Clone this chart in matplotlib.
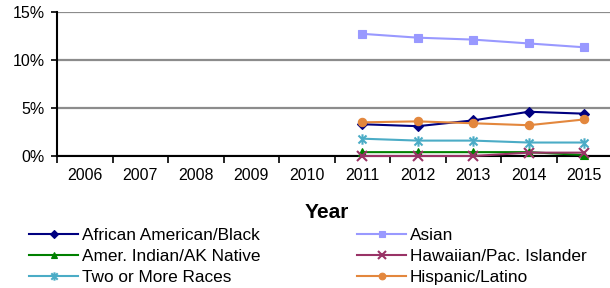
import numpy as np
import matplotlib
matplotlib.use('Agg')
import matplotlib.pyplot as plt
from matplotlib.path import Path

plt.rcParams['font.family'] = ['Liberation Sans', 'DejaVu Sans']

years = ['2006', '2007', '2008', '2009', '2010', '2011', '2012', '2013', '2014', '2015']
nan = np.nan

african_american = [nan, nan, nan, nan, nan, 3.3, 3.1, 3.7, 4.6, 4.4]
asian = [nan, nan, nan, nan, nan, 12.7, 12.3, 12.1, 11.7, 11.3]
amer_indian = [nan, nan, nan, nan, nan, 0.4, 0.4, 0.4, 0.4, 0.1]
hawaiian = [nan, nan, nan, nan, nan, 0.0, 0.0, 0.0, 0.35, 0.35]
two_or_more = [nan, nan, nan, nan, nan, 1.8, 1.6, 1.6, 1.4, 1.4]
hispanic = [nan, nan, nan, nan, nan, 3.5, 3.6, 3.4, 3.2, 3.8]

# excel style asterisk marker: an x with a vertical bar
star = Path([(-1, -1), (1, 1), (-1, 1), (1, -1), (0, -1.3), (0, 1.3)],
            [Path.MOVETO, Path.LINETO, Path.MOVETO, Path.LINETO, Path.MOVETO, Path.LINETO])

series = [
    ('African American/Black', african_american, '#000080', 'D', 5.5),
    ('Asian', asian, '#9999FF', 's', 6),
    ('Amer. Indian/AK Native', amer_indian, '#008000', '^', 6),
    ('Hawaiian/Pac. Islander', hawaiian, '#993366', 'x', 6.5),
    ('Two or More Races', two_or_more, '#4BACC6', star, 7.5),
    ('Hispanic/Latino', hispanic, '#E3873D', 'o', 6),
]

fig = plt.figure(figsize=(6.1, 2.88), dpi=100)
ax = fig.add_axes([57 / 610, 132 / 288, 555 / 610, 144.3 / 288])

x = np.arange(len(years))
for label, vals, color, marker, ms in series:
    ax.plot(x, vals, color=color, lw=1.5, marker=marker, markersize=ms,
            markeredgewidth=1.5 if marker in ('x',) or marker is star else 0.8,
            markerfacecolor=color, label=label, clip_on=False, zorder=3)

ax.set_xlim(-0.5, 9.5)
ax.set_ylim(0, 15)
ax.set_yticks([0, 5, 10, 15])
ax.set_yticklabels(['0%', '5%', '10%', '15%'], fontsize=11.5)
ax.yaxis.grid(True, color='#8c8c8c', lw=1.6)
ax.set_axisbelow(True)

ax.set_xticks(np.arange(-0.5, 9.5, 1))
ax.set_xticklabels([])
ax.set_xticks(x, minor=True)
ax.set_xticklabels(years, minor=True, fontsize=11.5)
ax.tick_params(axis='x', which='major', direction='out', length=5, width=1.2)
ax.tick_params(axis='x', which='minor', length=0, pad=9)
ax.tick_params(axis='y', direction='out', length=4, width=1.2, pad=5)

for s in ['top', 'right']:
    ax.spines[s].set_visible(False)
ax.spines['left'].set_linewidth(1.5)
ax.spines['bottom'].set_linewidth(1.5)
ax.spines['bottom'].set_zorder(2)

fig.text(327 / 610, 1 - 213 / 288, 'Year', fontsize=15, fontweight='bold',
         ha='center', va='center')

handles, labels = ax.get_legend_handles_labels()
order = [0, 2, 4, 1, 3, 5]
fig.legend([handles[i] for i in order], [labels[i] for i in order],
           ncol=2, loc='upper left', bbox_to_anchor=(29 / 610, 1 - 228 / 288),
           frameon=False, fontsize=12.4, handlelength=2.85, handletextpad=0.23,
           labelspacing=0.33, columnspacing=5.6, borderpad=0, borderaxespad=0,
           markerscale=0.8)

fig.savefig('out.png', dpi=100)
